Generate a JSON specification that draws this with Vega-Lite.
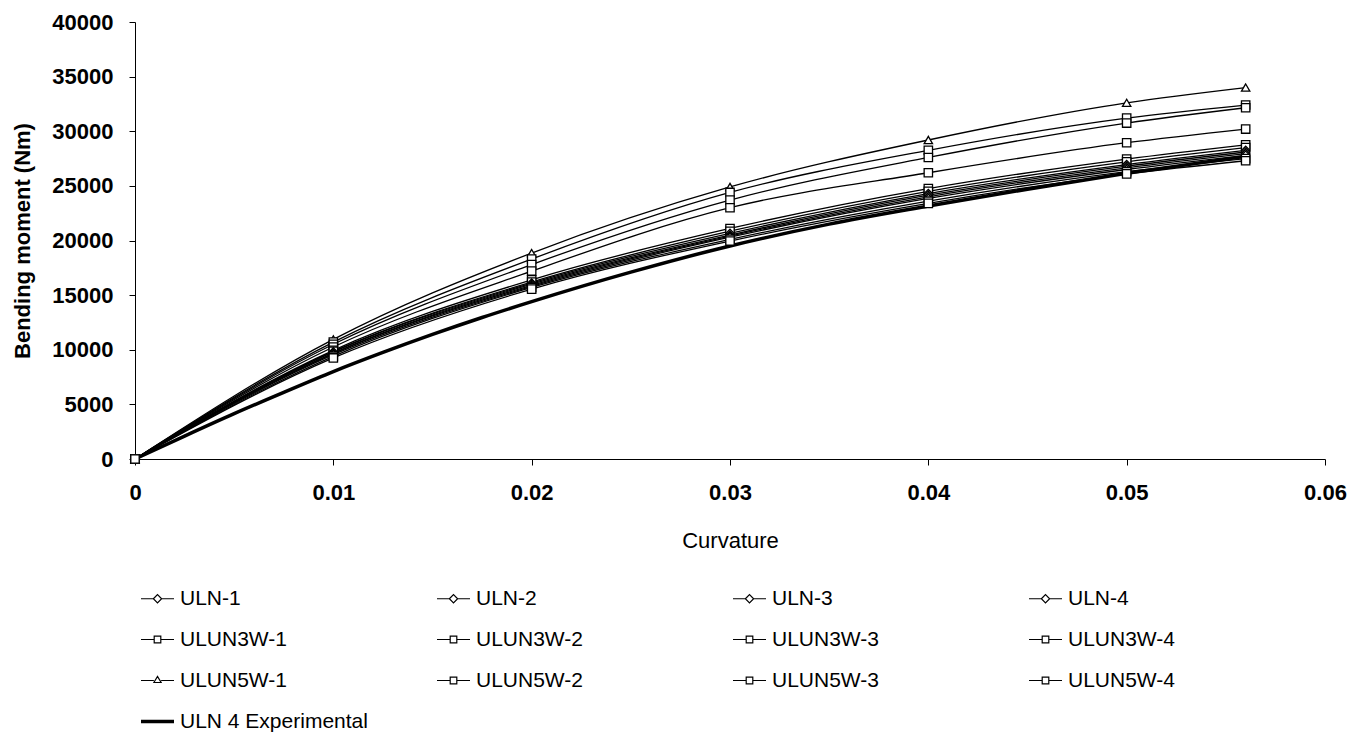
{
  "$schema": "https://vega.github.io/schema/vega-lite/v6.json",
  "autosize": {"type": "none"},
  "padding": {"left": 135, "top": 22, "right": 41, "bottom": 276},
  "width": 1190,
  "height": 437,
  "background": "white",
  "config": {
    "view": {"stroke": null},
    "font": "Liberation Sans",
    "axis": {
      "grid": false,
      "domainColor": "black",
      "tickColor": "black",
      "domainWidth": 1,
      "tickWidth": 1,
      "tickSize": 6,
      "labelColor": "black",
      "titleColor": "black",
      "labelFont": "Liberation Sans",
      "titleFont": "Liberation Sans",
      "labelFontSize": 22,
      "labelFontWeight": "bold",
      "titleFontSize": 22
    }
  },
  "datasets": {
    "models": [
      {"series": "ULUN5W-1", "k": 0, "M": 0}, {"series": "ULUN5W-1", "k": 0.01, "M": 10950}, {"series": "ULUN5W-1", "k": 0.02, "M": 18850}, {"series": "ULUN5W-1", "k": 0.03, "M": 24900}, {"series": "ULUN5W-1", "k": 0.04, "M": 29200}, {"series": "ULUN5W-1", "k": 0.05, "M": 32600}, {"series": "ULUN5W-1", "k": 0.056, "M": 34000},
      {"series": "ULUN5W-2", "k": 0, "M": 0}, {"series": "ULUN5W-2", "k": 0.01, "M": 10700}, {"series": "ULUN5W-2", "k": 0.02, "M": 18300}, {"series": "ULUN5W-2", "k": 0.03, "M": 24400}, {"series": "ULUN5W-2", "k": 0.04, "M": 28250}, {"series": "ULUN5W-2", "k": 0.05, "M": 31200}, {"series": "ULUN5W-2", "k": 0.056, "M": 32400},
      {"series": "ULUN5W-3", "k": 0, "M": 0}, {"series": "ULUN5W-3", "k": 0.01, "M": 10500}, {"series": "ULUN5W-3", "k": 0.02, "M": 17800}, {"series": "ULUN5W-3", "k": 0.03, "M": 23700}, {"series": "ULUN5W-3", "k": 0.04, "M": 27600}, {"series": "ULUN5W-3", "k": 0.05, "M": 30750}, {"series": "ULUN5W-3", "k": 0.056, "M": 32150},
      {"series": "ULUN5W-4", "k": 0, "M": 0}, {"series": "ULUN5W-4", "k": 0.01, "M": 10250}, {"series": "ULUN5W-4", "k": 0.02, "M": 17200}, {"series": "ULUN5W-4", "k": 0.03, "M": 23000}, {"series": "ULUN5W-4", "k": 0.04, "M": 26200}, {"series": "ULUN5W-4", "k": 0.05, "M": 28950}, {"series": "ULUN5W-4", "k": 0.056, "M": 30200},
      {"series": "ULUN3W-1", "k": 0, "M": 0}, {"series": "ULUN3W-1", "k": 0.01, "M": 9950}, {"series": "ULUN3W-1", "k": 0.02, "M": 16400}, {"series": "ULUN3W-1", "k": 0.03, "M": 21100}, {"series": "ULUN3W-1", "k": 0.04, "M": 24750}, {"series": "ULUN3W-1", "k": 0.05, "M": 27450}, {"series": "ULUN3W-1", "k": 0.056, "M": 28750},
      {"series": "ULUN3W-2", "k": 0, "M": 0}, {"series": "ULUN3W-2", "k": 0.01, "M": 9850}, {"series": "ULUN3W-2", "k": 0.02, "M": 16200}, {"series": "ULUN3W-2", "k": 0.03, "M": 20850}, {"series": "ULUN3W-2", "k": 0.04, "M": 24500}, {"series": "ULUN3W-2", "k": 0.05, "M": 27200}, {"series": "ULUN3W-2", "k": 0.056, "M": 28500},
      {"series": "ULN-1", "k": 0, "M": 0}, {"series": "ULN-1", "k": 0.01, "M": 9800}, {"series": "ULN-1", "k": 0.02, "M": 16100}, {"series": "ULN-1", "k": 0.03, "M": 20650}, {"series": "ULN-1", "k": 0.04, "M": 24300}, {"series": "ULN-1", "k": 0.05, "M": 26950}, {"series": "ULN-1", "k": 0.056, "M": 28250},
      {"series": "ULN-2", "k": 0, "M": 0}, {"series": "ULN-2", "k": 0.01, "M": 9700}, {"series": "ULN-2", "k": 0.02, "M": 16000}, {"series": "ULN-2", "k": 0.03, "M": 20500}, {"series": "ULN-2", "k": 0.04, "M": 24150}, {"series": "ULN-2", "k": 0.05, "M": 26800}, {"series": "ULN-2", "k": 0.056, "M": 28100},
      {"series": "ULN-3", "k": 0, "M": 0}, {"series": "ULN-3", "k": 0.01, "M": 9650}, {"series": "ULN-3", "k": 0.02, "M": 15900}, {"series": "ULN-3", "k": 0.03, "M": 20400}, {"series": "ULN-3", "k": 0.04, "M": 24000}, {"series": "ULN-3", "k": 0.05, "M": 26650}, {"series": "ULN-3", "k": 0.056, "M": 27950},
      {"series": "ULN-4", "k": 0, "M": 0}, {"series": "ULN-4", "k": 0.01, "M": 9550}, {"series": "ULN-4", "k": 0.02, "M": 15800}, {"series": "ULN-4", "k": 0.03, "M": 20300}, {"series": "ULN-4", "k": 0.04, "M": 23850}, {"series": "ULN-4", "k": 0.05, "M": 26500}, {"series": "ULN-4", "k": 0.056, "M": 27800},
      {"series": "ULUN3W-3", "k": 0, "M": 0}, {"series": "ULUN3W-3", "k": 0.01, "M": 9400}, {"series": "ULUN3W-3", "k": 0.02, "M": 15700}, {"series": "ULUN3W-3", "k": 0.03, "M": 20100}, {"series": "ULUN3W-3", "k": 0.04, "M": 23600}, {"series": "ULUN3W-3", "k": 0.05, "M": 26300}, {"series": "ULUN3W-3", "k": 0.056, "M": 27500},
      {"series": "ULUN3W-4", "k": 0, "M": 0}, {"series": "ULUN3W-4", "k": 0.01, "M": 9250}, {"series": "ULUN3W-4", "k": 0.02, "M": 15550}, {"series": "ULUN3W-4", "k": 0.03, "M": 19950}, {"series": "ULUN3W-4", "k": 0.04, "M": 23400}, {"series": "ULUN3W-4", "k": 0.05, "M": 26100}, {"series": "ULUN3W-4", "k": 0.056, "M": 27300}
    ],
    "exp": [
      {"series": "ULN 4 Experimental", "k": 0, "M": 0},
      {"series": "ULN 4 Experimental", "k": 0.0025, "M": 2100},
      {"series": "ULN 4 Experimental", "k": 0.005, "M": 4150},
      {"series": "ULN 4 Experimental", "k": 0.0075, "M": 6100},
      {"series": "ULN 4 Experimental", "k": 0.01, "M": 8000},
      {"series": "ULN 4 Experimental", "k": 0.0125, "M": 9750},
      {"series": "ULN 4 Experimental", "k": 0.015, "M": 11400},
      {"series": "ULN 4 Experimental", "k": 0.0175, "M": 12950},
      {"series": "ULN 4 Experimental", "k": 0.02, "M": 14400},
      {"series": "ULN 4 Experimental", "k": 0.025, "M": 17100},
      {"series": "ULN 4 Experimental", "k": 0.03, "M": 19500},
      {"series": "ULN 4 Experimental", "k": 0.035, "M": 21500},
      {"series": "ULN 4 Experimental", "k": 0.04, "M": 23150},
      {"series": "ULN 4 Experimental", "k": 0.045, "M": 24700},
      {"series": "ULN 4 Experimental", "k": 0.05, "M": 26150},
      {"series": "ULN 4 Experimental", "k": 0.056, "M": 27700}
    ]
  },
  "encoding": {
    "x": {
      "field": "k", "type": "quantitative",
      "scale": {"domain": [0, 0.06], "nice": false, "zero": true},
      "axis": {"values": [0, 0.01, 0.02, 0.03, 0.04, 0.05, 0.06], "format": "~g", "title": "Curvature", "titleFontWeight": "normal", "labelPadding": 17, "titlePadding": 27, "labelFlush": false}
    },
    "y": {
      "field": "M", "type": "quantitative",
      "scale": {"domain": [0, 40000], "nice": false},
      "axis": {"values": [0, 5000, 10000, 15000, 20000, 25000, 30000, 35000, 40000], "format": "d", "title": "Bending moment (Nm)", "titleFontWeight": "bold", "labelPadding": 16, "titlePadding": 17, "labelFlush": false}
    }
  },
  "layer": [
    {
      "data": {"name": "models"},
      "mark": {"type": "line", "color": "black", "strokeWidth": 1.3, "interpolate": "monotone"},
      "encoding": {"detail": {"field": "series", "type": "nominal"}}
    },
    {
      "data": {"name": "exp"},
      "mark": {"type": "line", "color": "black", "strokeWidth": 3.5, "interpolate": "monotone"},
      "encoding": {}
    },
    {
      "data": {"name": "models"},
      "mark": {"type": "point", "filled": false, "opacity": 0, "color": "black"},
      "encoding": {
        "shape": {
          "field": "series", "type": "nominal",
          "scale": {
            "domain": ["ULN-1", "ULN-2", "ULN-3", "ULN-4", "ULUN3W-1", "ULUN3W-2", "ULUN3W-3", "ULUN3W-4", "ULUN5W-1", "ULUN5W-2", "ULUN5W-3", "ULUN5W-4", "ULN 4 Experimental"],
            "range": [
              "M-1,0H-0.25M0.25,0H1M-0.25,0L0,-0.25L0.25,0L0,0.25Z",
              "M-1,0H-0.25M0.25,0H1M-0.25,0L0,-0.25L0.25,0L0,0.25Z",
              "M-1,0H-0.25M0.25,0H1M-0.25,0L0,-0.25L0.25,0L0,0.25Z",
              "M-1,0H-0.25M0.25,0H1M-0.25,0L0,-0.25L0.25,0L0,0.25Z",
              "M-1,0H-0.2M0.2,0H1M-0.2,-0.2H0.2V0.2H-0.2Z",
              "M-1,0H-0.2M0.2,0H1M-0.2,-0.2H0.2V0.2H-0.2Z",
              "M-1,0H-0.2M0.2,0H1M-0.2,-0.2H0.2V0.2H-0.2Z",
              "M-1,0H-0.2M0.2,0H1M-0.2,-0.2H0.2V0.2H-0.2Z",
              "M-1,0H-0.22M0.22,0H1M-0.22,0.12L0,-0.25L0.22,0.12Z",
              "M-1,0H-0.2M0.2,0H1M-0.2,-0.2H0.2V0.2H-0.2Z",
              "M-1,0H-0.2M0.2,0H1M-0.2,-0.2H0.2V0.2H-0.2Z",
              "M-1,0H-0.2M0.2,0H1M-0.2,-0.2H0.2V0.2H-0.2Z",
              "M-1,-0.07H1M-1,-0.025H1M-1,0.025H1M-1,0.07H1"
            ]
          },
          "legend": {
            "title": null,
            "orient": "none",
            "direction": "horizontal",
            "legendX": 5,
            "legendY": 559,
            "columns": 4,
            "gridAlign": "all",
            "columnPadding": 66,
            "rowPadding": 13,
            "symbolSize": 1089,
            "symbolStrokeWidth": 1.2,
            "symbolOpacity": 1,
            "symbolFillColor": "white",
            "symbolStrokeColor": "black",
            "labelFont": "Liberation Sans",
            "labelFontSize": 21,
            "labelColor": "black",
            "labelOffset": 5,
            "labelLimit": 400,
            "encode": {"symbols": {"update": {"opacity": {"value": 1}, "fill": {"value": "white"}, "stroke": {"value": "black"}, "strokeWidth": {"value": 1.2}}}}
          }
        }
      }
    },
    {
      "data": {"name": "models"},
      "mark": {"type": "point", "filled": true, "fill": "white", "stroke": "black", "strokeWidth": 1.3, "opacity": 1, "size": 70},
      "encoding": {
        "shape": {
          "field": "series", "type": "nominal",
          "scale": {
            "domain": ["ULN-1", "ULN-2", "ULN-3", "ULN-4", "ULUN3W-1", "ULUN3W-2", "ULUN3W-3", "ULUN3W-4", "ULUN5W-1", "ULUN5W-2", "ULUN5W-3", "ULUN5W-4"],
            "range": ["diamond", "diamond", "diamond", "diamond", "square", "square", "square", "square", "triangle-up", "square", "square", "square"]
          },
          "legend": null
        }
      }
    }
  ],
  "resolve": {"scale": {"shape": "independent"}, "legend": {"shape": "independent"}}
}
